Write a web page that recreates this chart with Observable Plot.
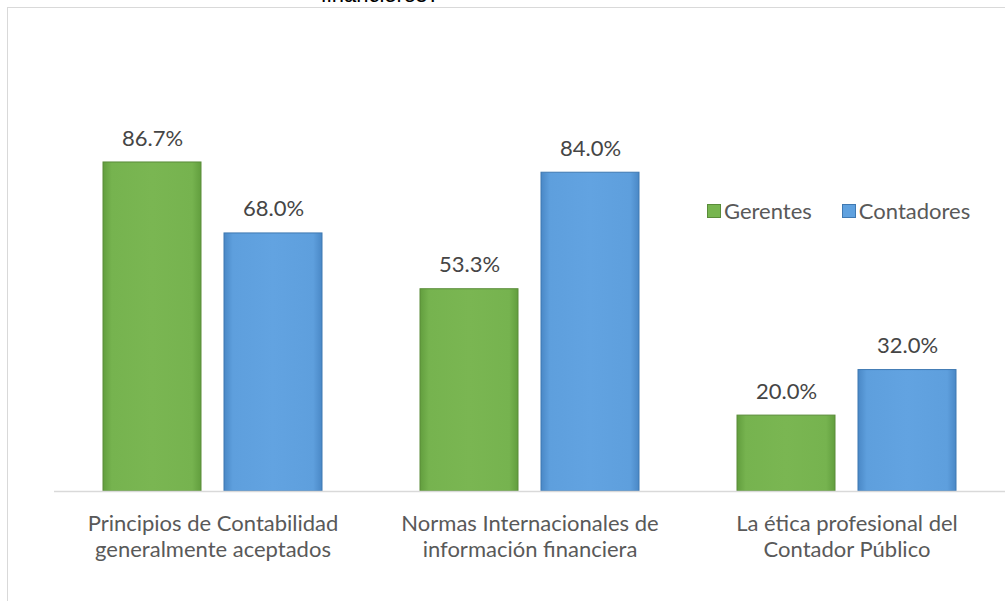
<!DOCTYPE html>
<html>
<head>
<meta charset="utf-8">
<script src="https://cdn.jsdelivr.net/npm/d3@7"></script>
<script src="https://cdn.jsdelivr.net/npm/@observablehq/plot@0.6"></script>
<style>
  html, body { margin: 0; padding: 0; background: #fff; overflow: hidden; }
  #wrap { position: relative; width: 1005px; height: 601px; overflow: hidden; }
  #frame { position: absolute; left: 7px; top: 7px; width: 1100px; height: 700px; border: 1.5px solid #d9d9d9; box-sizing: border-box; }
  #title { position: absolute; left: 0; width: 760px; top: -16px; text-align: center; font: 22px "Liberation Sans", Arial, sans-serif; color: #000; line-height: 22px; }
  #chart { position: absolute; left: 0; top: 0; }
  #legend { position: absolute; left: 707px; top: 197px; font: 22px Lato, sans-serif; color: #595959; display: flex; gap: 30px; white-space: nowrap; }
  #legend .item { display: flex; align-items: center; }
  #legend .sw { width: 14px; height: 14px; margin-right: 3px; box-sizing: border-box; }
</style>
</head>
<body>
<div id="wrap">
  <div id="frame"></div>
  <div id="title">financieros?</div>
  <div id="chart"></div>
  <div id="legend"></div>
</div>
<script>
const categories = [
  "Principios de Contabilidad\ngeneralmente aceptados",
  "Normas Internacionales de\ninformación financiera",
  "La ética profesional del\nContador Público"
];
const series = ["Gerentes", "Contadores"];
const gerentes = [86.7, 53.3, 20.0];
const contadores = [68.0, 84.0, 32.0];
const seriesColors = ["#77b54f", "#5fa1df"];

const data = [];
categories.forEach((c, i) => {
  data.push({category: c, series: series[0], value: gerentes[i]});
  data.push({category: c, series: series[1], value: contadores[i]});
});

const fillFor = s => s === "Gerentes" ? "url(#gradG)" : "url(#gradB)";
const strokeFor = s => s === "Gerentes" ? "#5a8c39" : "#3f79b2";

const chart = Plot.plot({
  width: 1005,
  height: 601,
  marginLeft: 53,
  marginRight: 0,
  marginTop: 111.5,
  marginBottom: 110,
  style: {fontFamily: "Lato, sans-serif", background: "transparent", overflow: "visible"},
  fx: {domain: categories, padding: 0, label: null},
  x: {domain: series, paddingInner: 0.1885, paddingOuter: 0.3975, axis: null},
  y: {domain: [0, 100], axis: null},
  marks: [
    Plot.barY(data, {fx: "category", x: "series", y: "value", fill: d => fillFor(d.series), stroke: d => strokeFor(d.series), strokeWidth: 1}),
    Plot.ruleY([0], {stroke: "#d9d9d9", strokeWidth: 1.5}),
    Plot.text(data, {fx: "category", x: "series", y: "value", text: d => d.value.toFixed(1) + "%", dy: -24, fontSize: 22, fill: "#454545"}),
    Plot.axisFx({anchor: "bottom", tickSize: 0, tickPadding: 20, fontSize: 22, lineHeight: 1.22, fill: "#595959", label: null})
  ]
});

// gradient defs for bevelled look
const svg = d3.select(chart);
const defs = svg.insert("defs", ":first-child");
function grad(id, edge, mid, light) {
  const g = defs.append("linearGradient").attr("id", id).attr("x1", 0).attr("x2", 1).attr("y1", 0).attr("y2", 0);
  g.append("stop").attr("offset", "0%").attr("stop-color", edge);
  g.append("stop").attr("offset", "9%").attr("stop-color", mid);
  g.append("stop").attr("offset", "50%").attr("stop-color", light);
  g.append("stop").attr("offset", "91%").attr("stop-color", mid);
  g.append("stop").attr("offset", "100%").attr("stop-color", edge);
}
grad("gradG", "#629e3e", "#76b34f", "#7ab652");
grad("gradB", "#4a88c6", "#5e9fdd", "#62a3e1");

document.getElementById("chart").appendChild(chart);

const legend = document.getElementById("legend");
series.forEach((s, i) => {
  const item = document.createElement("div");
  item.className = "item";
  const sw = document.createElement("div");
  sw.className = "sw";
  sw.style.background = seriesColors[i];
  sw.style.border = "1px solid " + strokeFor(s);
  const t = document.createElement("span");
  t.textContent = s;
  item.appendChild(sw);
  item.appendChild(t);
  legend.appendChild(item);
});
</script>
</body>
</html>
